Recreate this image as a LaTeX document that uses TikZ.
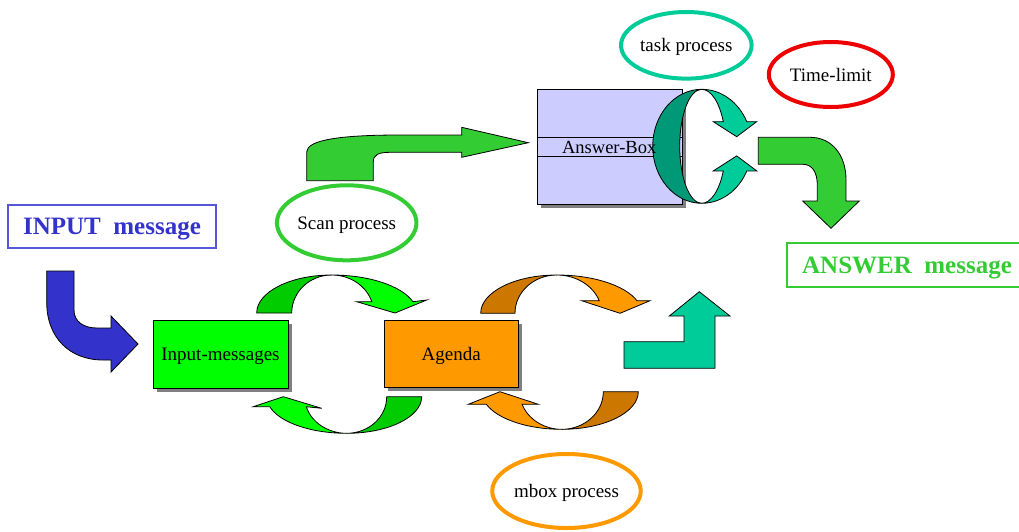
\documentclass[tikz,border=0pt]{standalone}
\usepackage{fontspec}
\setmainfont{Liberation Serif}
\usetikzlibrary{shapes.geometric,shadows}
\definecolor{inblue}{HTML}{3333CC}
\definecolor{inborder}{HTML}{5555DD}
\definecolor{ansgreen}{HTML}{33CC33}
\definecolor{brightgreen}{HTML}{00FF00}
\definecolor{darkgreen}{HTML}{00CC00}
\definecolor{teal1}{HTML}{00CC99}
\definecolor{teal2}{HTML}{009977}
\definecolor{orange1}{HTML}{FF9900}
\definecolor{orange2}{HTML}{CC7700}
\definecolor{lavender}{HTML}{CCCCFF}
\definecolor{redline}{HTML}{EE0000}
\begin{document}
\begin{tikzpicture}[x=1pt,y=1pt,
  txt/.style={font=\fontsize{19}{22}\selectfont,text depth=0pt},
  bigtxt/.style={font=\fontsize{25}{28}\selectfont\bfseries,text depth=0pt},
  shape3d/.style={draw=black,line width=0.8pt,line join=miter},
  procbox/.style={shape3d,rectangle,inner sep=0pt,txt,
    drop shadow={shadow xshift=4pt,shadow yshift=-4pt,fill=black!50,opacity=1}},
  procell/.style={ellipse,line width=4pt,inner sep=0pt,txt},
  msgbox/.style={rectangle,line width=1.2pt,inner sep=0pt,bigtxt}]
\useasboundingbox (0,0) rectangle (1019,-531);
\clip (0,0) rectangle (1019,-531);

% message boxes
\node[msgbox,draw=inborder,text=inblue,minimum width=208pt,minimum height=43pt]
  (input) at (112,-226.5) {INPUT~~message};
\node[msgbox,draw=ansgreen,text=ansgreen,minimum width=240pt,minimum height=44pt]
  (answer) at (907,-265) {ANSWER~~message};

% process boxes
\node[procbox,fill=brightgreen,minimum width=135pt,minimum height=68pt]
  (inmsg) at (220.5,-354) {Input-messages};
\node[procbox,fill=orange1,minimum width=134.5pt,minimum height=67pt]
  (agenda) at (451.2,-353.5) {Agenda};
\node[procbox,fill=lavender,minimum width=145pt,minimum height=115pt]
  (abox) at (609.5,-146.5) {};
\node[shape3d,rectangle,fill=lavender,inner sep=0pt,minimum width=145pt,minimum height=19pt]
  (aband) at (609.5,-146.5) {};

% ellipses
\node[procell,draw=teal1,minimum width=123.4pt,minimum height=66.6pt]
  (task) at (686.3,-45.3) {task process};
\node[procell,draw=redline,minimum width=124pt,minimum height=65pt]
  (time) at (830.8,-74.5) {Time-limit};
\node[procell,draw=ansgreen,minimum width=136pt,minimum height=75pt]
  (scan) at (346.7,-222.8) {Scan process};
\node[procell,draw=orange1,minimum width=134pt,minimum height=74pt]
  (mbox) at (566.5,-491) {mbox process};

% blue input arrow
\path[shape3d,fill=inblue] (46.7,-271) -- (74,-271) -- (74,-310)
  .. controls (74,-322) and (84,-328) .. (97,-328) -- (111,-328) -- (111,-316)
  -- (138,-344) -- (111,-372) -- (111,-360) -- (103,-360)
  .. controls (70,-360) and (46.7,-338) .. (46.7,-302) -- cycle;

% green loop top
\path[shape3d,fill=darkgreen] (256.7,-313)
  arc[start angle=180,end angle=90,x radius=75,y radius=38]
  arc[start angle=90,end angle=180,x radius=40,y radius=38] -- cycle;
\path[shape3d,fill=brightgreen] (331.7,-275)
  arc[start angle=90,end angle=17.3,x radius=85,y radius=38]
  -- (426.7,-300) -- (395,-313) -- (356.7,-301.7) -- (371.8,-301.7)
  arc[start angle=17.3,end angle=90,x radius=42,y radius=38] -- cycle;
% green loop bottom
\path[shape3d,fill=darkgreen] (421.7,-396.7)
  arc[start angle=0,end angle=-90,x radius=75,y radius=36.6]
  arc[start angle=-90,end angle=0,x radius=40,y radius=36.6] -- cycle;
\path[shape3d,fill=brightgreen] (346.7,-433.3)
  arc[start angle=-90,end angle=-164.15,x radius=80,y radius=36.6]
  -- (253.3,-406.7) -- (283.3,-396.7) -- (321.7,-408.3) -- (306.3,-406.7)
  arc[start angle=-164.15,end angle=-90,x radius=42,y radius=36.6] -- cycle;

% orange loop top
\path[shape3d,fill=orange2] (480.7,-313.3)
  arc[start angle=180,end angle=90,x radius=76,y radius=38.3]
  arc[start angle=90,end angle=180,x radius=41.7,y radius=38.3] -- cycle;
\path[shape3d,fill=orange1] (556.7,-275)
  arc[start angle=90,end angle=19.2,x radius=85,y radius=38.3]
  -- (650,-300.7) -- (620,-313.3) -- (581.7,-300.7) -- (599.2,-300.7)
  arc[start angle=19.2,end angle=90,x radius=45,y radius=38.3] -- cycle;
% orange loop bottom
\path[shape3d,fill=orange2] (638.3,-391.7)
  arc[start angle=0,end angle=-90,x radius=76.6,y radius=37.6]
  arc[start angle=-90,end angle=0,x radius=41.6,y radius=37.6] -- cycle;
\path[shape3d,fill=orange1] (561.7,-429.3)
  arc[start angle=-90,end angle=-160.4,x radius=80,y radius=37.6]
  -- (468.3,-404.3) -- (500,-391.7) -- (538.3,-404.3) -- (522.1,-404.3)
  arc[start angle=-160.4,end angle=-90,x radius=42,y radius=37.6] -- cycle;

% teal bent up arrow
\path[shape3d,fill=teal1] (624,-341.7) -- (684,-341.7) -- (684,-316)
  -- (669.3,-316) -- (699.3,-291.7) -- (730,-316) -- (715,-316)
  -- (715,-368.3) -- (624,-368.3) -- cycle;

% green arrow from scan to answer box
\path[shape3d,fill=ansgreen] (306.7,-180.7) -- (306.7,-152)
  .. controls (306.7,-140) and (340,-135) .. (400,-135) -- (461.7,-135)
  -- (461.7,-127.3) -- (528.3,-142.7) -- (461.7,-157.3) -- (461.7,-152.3)
  -- (390,-152.3) .. controls (378,-152.3) and (373.3,-155) .. (373.3,-162)
  -- (373.3,-180.7) -- cycle;

% green arrow down to answer
\path[shape3d,fill=ansgreen] (758.3,-137.3) -- (810,-137.3)
  .. controls (832,-137.3) and (846,-155) .. (846,-180) -- (846,-201)
  -- (859.3,-201) -- (831,-228.3) -- (802.7,-201) -- (817.3,-201)
  -- (817.3,-185) .. controls (817.3,-172) and (812,-164.3) .. (803,-164.3)
  -- (758.3,-164.3) -- cycle;

% task loop around answer box
\path[shape3d,fill=teal2] (701.7,-89.3)
  arc[start angle=90,end angle=270,x radius=49,y radius=57]
  arc[start angle=270,end angle=90,x radius=22,y radius=57] -- cycle;
\path[shape3d,fill=teal1] (701.7,-89.3)
  arc[start angle=90,end angle=25.6,x radius=50,y radius=57]
  -- (756.7,-121.7) -- (736.7,-136.7) -- (713.3,-121.7) -- (723.3,-121.7)
  arc[start angle=25.6,end angle=90,x radius=24,y radius=57] -- cycle;
\path[shape3d,fill=teal1] (701.7,-203.3)
  arc[start angle=-90,end angle=-25.6,x radius=50,y radius=57]
  -- (756.7,-170.9) -- (736.7,-155.9) -- (713.3,-170.9) -- (723.3,-170.9)
  arc[start angle=-25.6,end angle=-90,x radius=24,y radius=57] -- cycle;

% label of the answer box band, drawn above the loop
\node[inner sep=0pt,font=\fontsize{18.5}{21}\selectfont,text depth=0pt] (abtext) at (609.2,-147) {Answer-Box};
\end{tikzpicture}
\end{document}
